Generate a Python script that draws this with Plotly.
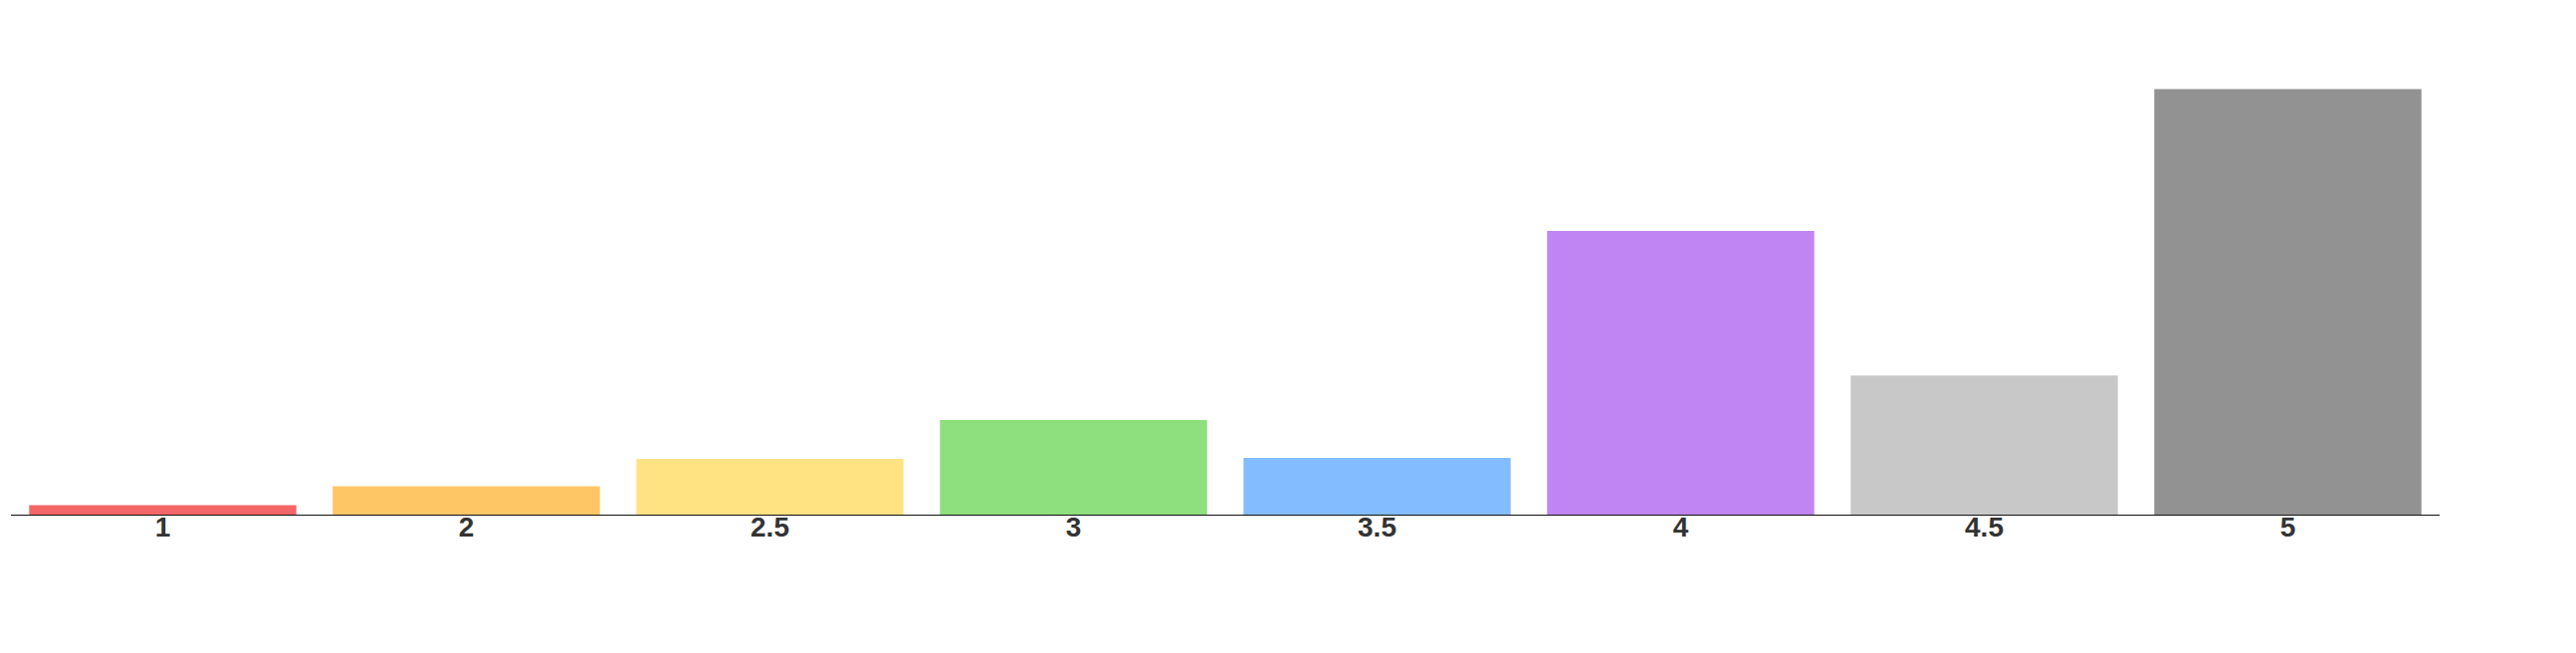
import plotly.graph_objects as go

categories = ["1", "2", "2.5", "3", "3.5", "4", "4.5", "5"]
values = [1, 3, 5.9, 10, 6, 30, 14.7, 45]
colors = ["#F46666", "#FFC666", "#FFE383", "#8EDF7E", "#83BCFF", "#C084F3", "#C8C8C8", "#929292"]

fig = go.Figure(
    go.Bar(
        x=categories,
        y=values,
        marker=dict(color=colors, line=dict(width=0)),
        hoverinfo="x+y",
    )
)

fig.update_layout(
    width=2572,
    height=640,
    margin=dict(l=3, r=129, t=59, b=131),
    paper_bgcolor="#FFFFFF",
    plot_bgcolor="#FFFFFF",
    bargap=0.12,
    showlegend=False,
    xaxis=dict(
        type="category",
        showline=True,
        linecolor="#111111",
        linewidth=1,
        ticks="",
        showgrid=False,
        ticklabelstandoff=-13,
        tickfont=dict(family="Liberation Sans, Arial", size=28, color="#333333", weight="bold"),
    ),
    yaxis=dict(
        range=[0, 47.37],
        visible=False,
        showgrid=False,
        zeroline=False,
    ),
)

fig.write_html("out.html")
